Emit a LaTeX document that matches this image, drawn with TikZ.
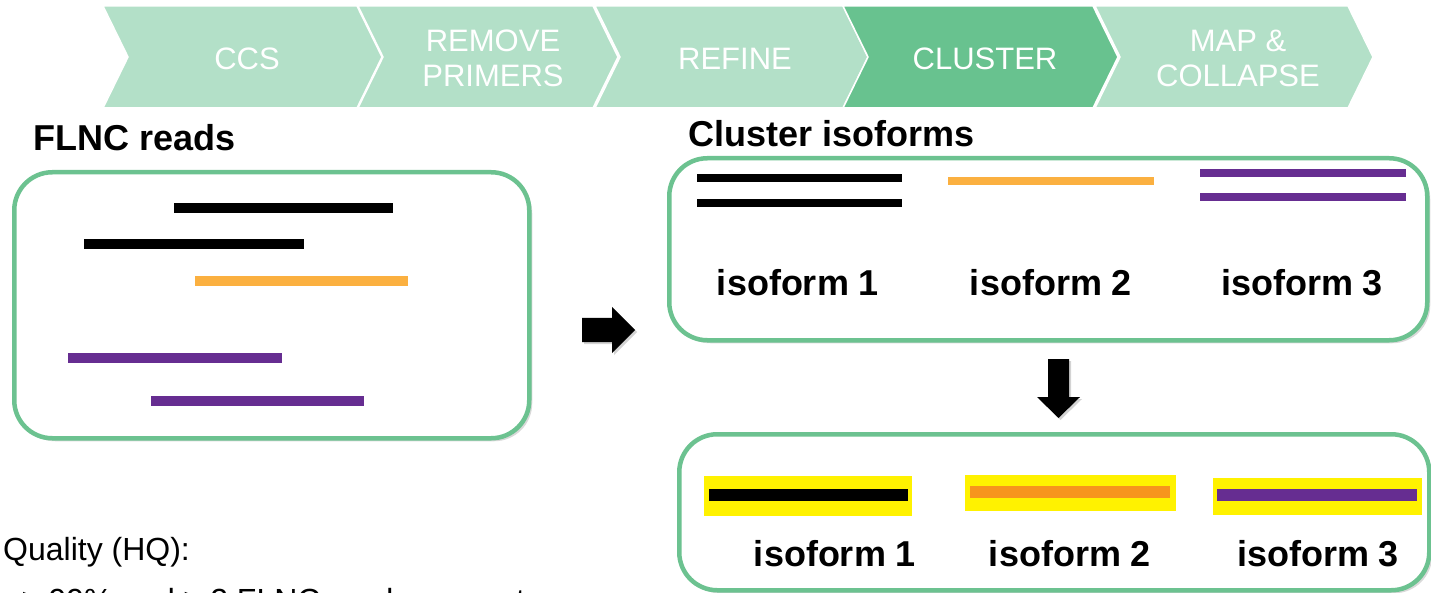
\documentclass[tikz,border=0pt]{standalone}
\usepackage{fontspec}
\setmainfont{Liberation Sans}
\usetikzlibrary{shadows}
\definecolor{chevlight}{HTML}{B3E0C8}
\definecolor{chevdark}{HTML}{68C28F}
\definecolor{boxgreen}{HTML}{6CC290}
\definecolor{readorange}{HTML}{FBB040}
\definecolor{readpurple}{HTML}{662D91}
\definecolor{hlyellow}{HTML}{FFF200}
\definecolor{hlorange}{HTML}{F7941D}
\begin{document}
\begin{tikzpicture}[x=1pt,y=-1pt,
  chev/.style={fill=chevlight, draw=white, line width=1.5pt},
  chevon/.style={fill=chevdark, draw=white, line width=1.5pt},
  chevtxt/.style={text=white, font=\fontsize{31}{35}\selectfont, align=center, inner sep=0pt},
  panel/.style={draw=boxgreen, line width=4.5pt, rounded corners=38pt, fill=white,
    drop shadow={opacity=0.3, shadow xshift=3pt, shadow yshift=-3pt}},
  heading/.style={font=\bfseries\fontsize{36}{36}\selectfont, anchor=base west, inner sep=0pt},
  isolabel/.style={font=\bfseries\fontsize{36}{36}\selectfont, anchor=base, inner sep=0pt},
  read/.style={line width=10pt},
  iso/.style={line width=8pt},
  hlbar/.style={line width=12pt},
  blockarrow/.style={fill=black, drop shadow={opacity=0.35, shadow xshift=2pt, shadow yshift=-2pt}},
  plain/.style={font=\fontsize{32}{32}\selectfont, anchor=base west, inner sep=0pt}
]
\useasboundingbox (0,0) rectangle (1431,593);

% ---- process chevrons ----
\path[chev]   (103,6) -- (357,6) -- (382,57) -- (357,108) -- (103,108) -- (128,57) -- cycle;
\path[chev]   (358,6) -- (593,6) -- (618,57) -- (593,108) -- (358,108) -- (383,57) -- cycle;
\path[chev]   (595,6) -- (843,6) -- (868,57) -- (843,108) -- (595,108) -- (620,57) -- cycle;
\path[chevon] (843,6) -- (1093,6) -- (1118,57) -- (1093,108) -- (843,108) -- (868,57) -- cycle;
\path[chev]   (1095,6) -- (1348,6) -- (1373,57) -- (1348,108) -- (1095,108) -- (1120,57) -- cycle;

\node[chevtxt] (ccs) at (247,59) {CCS};
\node[chevtxt] (rmp) at (493,58) {REMOVE\\PRIMERS};
\node[chevtxt] (ref) at (735,59) {REFINE};
\node[chevtxt] (clu) at (985,59) {CLUSTER};
\node[chevtxt] (map) at (1238,58) {MAP \&\\COLLAPSE};

% ---- FLNC reads panel ----
\node[heading] (flnct) at (33,151) {FLNC reads};
\node[panel, anchor=north west, minimum width=515pt, minimum height=266pt] (flnc) at (12,170) {};
\draw[read, black]       (174,208) -- (393,208);
\draw[read, black]       (84,244)  -- (304,244);
\draw[read, readorange]  (195,281) -- (408,281);
\draw[read, readpurple]  (68,358)  -- (282,358);
\draw[read, readpurple]  (151,401) -- (364,401);

% ---- right arrow ----
\path[blockarrow] (582,318) -- (612,318) -- (612,307) -- (635,330) -- (612,353) -- (612,342) -- (582,342) -- cycle;

% ---- Cluster isoforms panel ----
\node[heading] (clut) at (688,147) {Cluster isoforms};
\node[panel, anchor=north west, minimum width=758pt, minimum height=182pt] (clus) at (667,156) {};
\draw[iso, black]       (697,178) -- (902,178);
\draw[iso, black]       (697,203) -- (902,203);
\draw[iso, readorange]  (948,181) -- (1154,181);
\draw[iso, readpurple]  (1200,173) -- (1406,173);
\draw[iso, readpurple]  (1200,197) -- (1406,197);
\node[isolabel] (ia1) at (798,296) {isoform 1};
\node[isolabel] (ia2) at (1051,296) {isoform 2};
\node[isolabel] (ia3) at (1302,296) {isoform 3};

% ---- down arrow ----
\path[blockarrow] (1048,359) -- (1069,359) -- (1069,397) -- (1080,397) -- (1058.5,418) -- (1037,397) -- (1048,397) -- cycle;

% ---- collapsed isoforms panel ----
\node[panel, anchor=north west, minimum width=750pt, minimum height=156pt] (coll) at (677,432) {};
\fill[hlyellow] (704,476) rectangle (912,516);
\draw[hlbar, black] (709,495) -- (908,495);
\fill[hlyellow] (965,475) rectangle (1176,511);
\draw[hlbar, hlorange] (970,492) -- (1170,492);
\fill[hlyellow] (1213,478) rectangle (1422,515);
\draw[hlbar, readpurple] (1217,495) -- (1417,495);
\node[isolabel] (ib1) at (835,566) {isoform 1};
\node[isolabel] (ib2) at (1070,566) {isoform 2};
\node[isolabel] (ib3) at (1318,566) {isoform 3};

% ---- HQ text ----
\node[plain] (hq) at (3,560) {Quality (HQ):};
\node[plain] (hq2) at (22,611) {≥ 99\% and ≥ 2 FLNC reads support};
\end{tikzpicture}
\end{document}
